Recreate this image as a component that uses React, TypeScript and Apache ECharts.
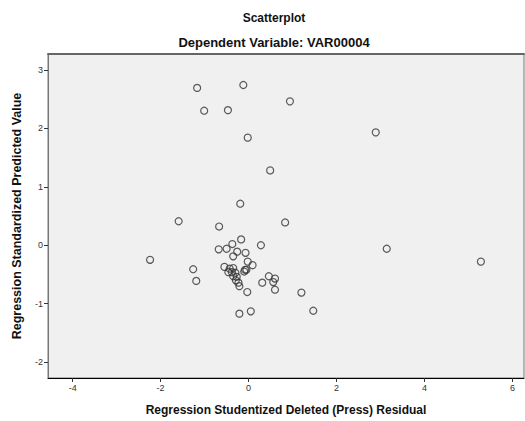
import React, { useEffect, useRef } from "react";
import * as echarts from "echarts";

const titleText = "Scatterplot";
const subtitleText = "Dependent Variable: VAR00004";
const xAxisName = "Regression Studentized Deleted (Press) Residual";
const yAxisName = "Regression Standardized Predicted Value";
const xTicks = [-4, -2, 0, 2, 4, 6];
const yTicks = [-2, -1, 0, 1, 2, 3];

const residuals = [
  -1.17, -0.12, 0.94, -1.01, -0.47, -0.02, 2.89, 0.49,
  -0.19, -1.59, -0.67, 0.83, -0.17, -0.37, -0.68, -0.5, 0.28, -0.26, -0.35, -0.07, -0.02, 0.09, -2.24, 3.14, 5.28,
  -1.26, -1.19,
  -0.55, -0.43, -0.35, -0.08, -0.46, -0.38, -0.3, -0.35, -0.27, -0.29, -0.23, -0.21, -0.05, -0.1,
  -0.03, -0.21, 0.05, 0.46, 0.6, 0.56, 0.31, 0.6, 1.2, 1.47,
];
const predicted = [
  2.69, 2.74, 2.46, 2.3, 2.31, 1.84, 1.93, 1.28,
  0.71, 0.41, 0.32, 0.39, 0.1, 0.02, -0.07, -0.06, 0.0, -0.11, -0.19, -0.13, -0.28, -0.34, -0.25, -0.06, -0.28,
  -0.41, -0.61,
  -0.37, -0.4, -0.39, -0.42, -0.46, -0.46, -0.47, -0.53, -0.54, -0.6, -0.64, -0.7, -0.42, -0.45,
  -0.8, -1.17, -1.13, -0.53, -0.57, -0.63, -0.64, -0.76, -0.81, -1.12,
];

export default function App() {
  const ref = useRef<HTMLDivElement>(null);
  useEffect(() => {
    if (!ref.current) return;
    const chart = echarts.init(ref.current, null, { renderer: "svg" });
    const data = residuals.map((x, i) => [x, predicted[i]]);
    chart.setOption({
      animation: false,
      backgroundColor: "#ffffff",
      textStyle: { fontFamily: "Liberation Sans, Arial, sans-serif" },
      title: [
        {
          text: titleText,
          left: 269,
          top: 7,
          textAlign: "center",
          textStyle: { fontSize: 12, fontWeight: "bold", color: "#111" },
        },
        {
          text: subtitleText,
          left: 269,
          top: 31,
          textAlign: "center",
          textStyle: { fontSize: 13, fontWeight: "bold", color: "#111" },
        },
      ],
      grid: {
        left: 48,
        top: 54,
        right: 1,
        bottom: 41,
        show: true,
        backgroundColor: "#f0f0f0",
        borderColor: "#777",
        borderWidth: 1,
      },
      xAxis: [
        {
          type: "value",
          min: -4.56,
          max: 6.26,
          name: xAxisName,
          nameLocation: "middle",
          nameGap: 26,
          nameTextStyle: { fontSize: 12, fontWeight: "bold", color: "#111" },
          axisLine: { show: true, onZero: false, lineStyle: { color: "#000", width: 1 } },
          axisTick: { show: true, customValues: xTicks, length: 4, lineStyle: { color: "#333" } },
          axisLabel: { customValues: xTicks, fontSize: 9, color: "#333", margin: 5 },
          splitLine: { show: false },
        },
        {
          type: "value",
          position: "top",
          min: -4.56,
          max: 6.26,
          axisLine: { show: true, onZero: false, lineStyle: { color: "#666", width: 2 } },
          axisTick: { show: false },
          axisLabel: { show: false },
          splitLine: { show: false },
        },
      ],
      yAxis: {
        type: "value",
        min: -2.27,
        max: 3.27,
        name: yAxisName,
        nameLocation: "middle",
        nameGap: 25,
        nameTextStyle: { fontSize: 12.5, fontWeight: "bold", color: "#111" },
        axisLine: { show: true, onZero: false, lineStyle: { color: "#777", width: 1 } },
        axisTick: { show: true, customValues: yTicks, length: 4, lineStyle: { color: "#333" } },
        axisLabel: { customValues: yTicks, fontSize: 9, color: "#333", margin: 5 },
        splitLine: { show: false },
      },
      series: [
        {
          type: "scatter",
          data,
          xAxisIndex: 0,
          symbol: "circle",
          symbolSize: 7,
          itemStyle: { color: "rgba(0,0,0,0)", borderColor: "#333", borderWidth: 1.2 },
        },
      ],
    });
    return () => chart.dispose();
  }, []);
  return <div ref={ref} style={{ width: 525, height: 421, position: "absolute", left: 0, top: 0 }} />;
}
